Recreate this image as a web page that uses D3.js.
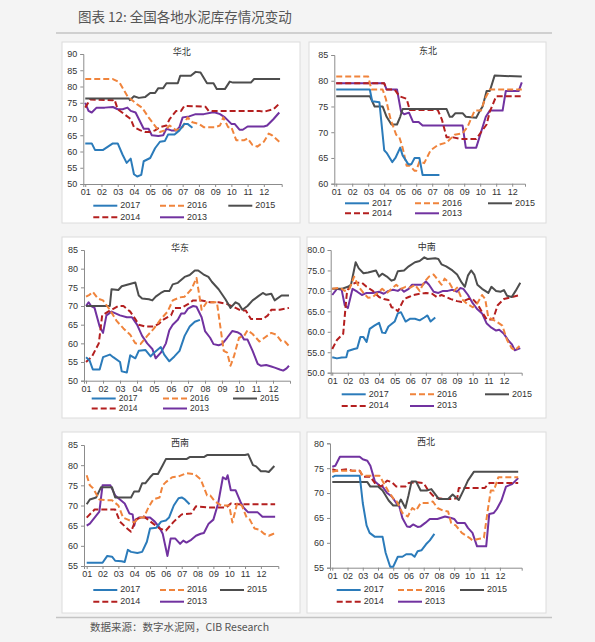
<!DOCTYPE html>
<html>
<head>
<meta charset="utf-8">
<script src="https://cdn.jsdelivr.net/npm/d3@7"></script>
<style>
  body { margin: 0; background: #f4f4f4; }
  text { font-family: Arial, "Liberation Sans", sans-serif; }
  .cjk { font-family: "Noto Sans CJK SC", sans-serif; }
</style>
</head>
<body>
<div id="vis"></div>
<script>
//chart values, [month position, inventory %]
const regions = ["华北", "东北", "华东", "中南", "西南", "西北"]
const years = ["2017", "2016", "2015", "2014", "2013"]
const monthLabels = ["01", "02", "03", "04", "05", "06", "07", "08", "09", "10", "11", "12"]

//华北
const hb17 = [[0,62.5],[0.4,62.5],[0.6,60.5],[1.1,60.5],[1.4,61.5],[1.7,62.5],[2.0,62.5],[2.3,59],[2.55,56.5],[2.8,57.8],[3.0,53],[3.2,52.3],[3.45,52.8],[3.6,57],[4.0,58],[4.3,61],[4.6,63],[4.9,63.2],[5.1,65.2],[5.5,65.2],[5.8,66.5],[6.1,68.5],[6.3,68.5],[6.6,67.3]]
const hb16 = [[0,82.3],[1.7,82.3],[2.1,81.3],[2.6,77],[3.2,74.5],[3.5,73.5],[3.9,70.5],[4.2,68.5],[4.6,66],[4.9,66.5],[5.2,68],[5.6,66.5],[6.0,67.5],[6.3,70.5],[6.6,69],[7.0,68.5],[7.3,67.5],[8.0,67.5],[8.3,68],[8.5,70.5],[8.8,67.5],[9.0,67.5],[9.3,63.5],[9.8,63.5],[10.0,64],[10.3,62],[10.6,61.5],[11.0,63],[11.3,65.5],[11.5,65],[11.95,63]]
const hb15 = [[0,76.3],[2.7,76.3],[2.75,75.8],[3.0,77],[3.3,76.5],[3.7,76.8],[4.0,78],[4.3,78],[4.5,79.5],[4.8,79.5],[5.0,81],[5.7,81],[5.85,83.3],[6.5,83.3],[6.8,84.5],[7.1,84.3],[7.5,81],[7.9,81],[8.1,79.2],[8.6,79.2],[8.9,81.5],[9.1,81.2],[10.2,81.2],[10.4,82.3],[12.0,82.3]]
const hb14 = [[0,73.5],[0.3,76],[1.7,75.8],[1.8,76],[2.0,73],[2.4,71.5],[2.8,70],[3.0,67.5],[3.4,66.5],[3.7,66],[4.0,66],[4.3,66.5],[4.6,67.5],[5.0,68],[5.2,70],[5.6,72.5],[5.9,72.5],[6.1,74],[7.4,73.8],[7.6,72.5],[10.7,72.5],[11.0,72.2],[11.2,72.5],[11.6,73],[11.9,74.5]]
const hb13 = [[0,75],[0.2,72.5],[0.4,72],[0.7,73.5],[1.2,73.5],[1.7,73.7],[2.0,73],[2.3,73],[2.6,73.5],[2.8,72.5],[3.1,72],[3.3,70],[3.6,67],[3.9,67],[4.1,65],[4.5,64.8],[4.8,65],[5.0,67],[5.3,66.5],[5.6,66.5],[5.8,67.5],[6.0,70.5],[6.4,70.8],[6.8,71.5],[7.3,71.5],[7.8,72],[8.0,72],[8.3,71.5],[8.6,70.5],[9.0,68.5],[9.2,68.5],[9.5,66.7],[9.7,66.7],[10.0,67.7],[11.0,67.7],[11.2,68],[11.6,70],[11.95,72]]

//东北
const db17 = [[0,78.3],[2.1,78.3],[2.25,76],[2.7,75.8],[3.0,66.5],[3.15,66],[3.5,64.2],[3.7,65],[4.0,67],[4.15,65.5],[4.5,63.8],[4.7,63.8],[4.9,65],[5.2,65],[5.4,61.7],[6.45,61.7]]
const db16 = [[0,80.8],[2.0,80.8],[2.2,78.3],[2.9,78.3],[3.1,76.5],[3.4,72.5],[3.75,69.5],[3.95,69],[4.15,67],[4.4,63.5],[4.6,63.5],[4.9,62.5],[5.0,62.5],[5.2,64.3],[5.5,64],[5.9,66.5],[6.35,67.5],[6.9,68],[7.4,69.5],[7.9,69.8],[8.2,71],[8.65,74.2],[9.05,74.2],[9.3,76.5],[9.6,78.3],[11.6,78.3]]
const db15 = [[0,77],[2.1,77],[2.4,75],[2.9,75],[3.15,73],[3.45,71.5],[3.8,71.5],[4.0,73],[4.15,74.5],[6.9,74.5],[7.1,73],[7.25,73],[7.45,73.7],[7.9,73.7],[8.1,73],[8.75,72.8],[8.95,74],[9.15,75],[9.4,78],[9.6,78],[9.9,81],[11.6,80.8]]
const db14 = [[0,79.5],[3.0,79.5],[3.15,78.3],[3.65,78.3],[3.95,77],[4.4,76.5],[4.6,74.3],[6.35,74.3],[6.6,72.5],[6.9,69],[7.3,69],[7.8,68.7],[8.75,68.7],[9.05,70],[9.4,71.5],[9.6,74],[10.0,77],[11.6,77]]
const db13 = [[0,79.5],[3.0,79.5],[3.15,78.3],[3.8,78.3],[4.05,74],[4.25,73.5],[4.55,73.8],[4.8,72],[5.15,72],[5.4,71.3],[7.9,71.3],[8.1,67],[8.75,67],[9.05,70],[9.35,73],[9.6,74.2],[10.4,74.2],[10.6,78],[11.4,78],[11.6,79.7]]

//华东
const hd17 = [[0,56.3],[0.2,55.5],[0.4,53],[0.8,53],[1.0,56.3],[1.4,57],[1.6,56.3],[2.0,55],[2.1,52.5],[2.4,52.2],[2.6,56.8],[2.9,56],[3.1,58],[3.5,58.2],[3.8,56.5],[4.0,57.5],[4.4,59],[4.6,57],[4.9,55.2],[5.2,56.5],[5.5,58],[5.8,62],[6.1,64.5],[6.4,65.8],[6.7,66.3]]
const hd16 = [[0,72.5],[0.2,73],[0.4,73.8],[0.7,72],[1.0,71.5],[1.4,69],[1.8,66],[2.2,64],[2.6,62.3],[2.9,60],[3.2,59.8],[3.6,62],[4.0,64],[4.4,66.5],[4.8,68.5],[5.1,71.5],[5.5,72.3],[5.8,72.5],[6.2,74.5],[6.5,77.5],[6.8,69],[7.1,71],[7.7,71],[8.1,58],[8.3,57.5],[8.5,54],[8.7,56.5],[9.0,61.5],[9.3,62],[9.5,63.5],[9.8,62.5],[10.2,60.5],[10.5,61.5],[10.9,62.8],[11.2,62.3],[11.5,60.5],[11.7,60.5],[11.94,59.3]]
const hd15 = [[0,70],[1.4,70],[1.5,74.5],[1.9,74.3],[2.1,75.3],[2.9,76.3],[3.1,72.8],[3.3,72],[3.7,71.8],[3.9,71.5],[4.1,72.5],[4.4,73.5],[4.6,74],[4.9,74],[5.1,75.8],[5.4,76.2],[5.8,77.8],[6.1,78.3],[6.4,79.5],[6.6,79.5],[6.9,78.5],[7.2,77.8],[7.4,76.5],[7.8,74.5],[8.2,71.8],[8.5,69.5],[8.8,71],[9.0,70.5],[9.2,69],[9.5,70],[9.8,71.5],[10.1,72.5],[10.4,73.5],[10.6,73],[10.9,73.3],[11.1,71.5],[11.5,72.8],[11.94,72.8]]
const hd14 = [[0,55],[0.35,56.5],[0.75,60],[0.95,67.5],[1.3,68.5],[1.9,70],[2.2,70],[2.6,68.5],[2.9,66.5],[3.1,65],[3.5,64.5],[4.0,64.5],[4.3,65.3],[4.6,66.5],[5.0,67.5],[5.2,69.5],[5.6,69.5],[6.0,70.5],[6.3,71.5],[6.8,71.5],[7.3,71],[7.8,71],[8.3,70.5],[8.8,69.5],[9.1,68.8],[9.4,68.8],[9.7,66.5],[10.4,66.5],[10.7,67.5],[10.9,69],[11.4,69],[11.94,69.5]]
const hd13 = [[0,70],[0.15,71],[0.3,70],[0.5,69.5],[0.8,64.5],[1.0,62.8],[1.2,67.5],[1.5,68.5],[2.0,67.5],[2.4,67],[2.7,67],[3.0,65],[3.3,62],[3.6,60],[3.9,58.5],[4.1,56],[4.4,57.5],[4.7,60],[4.9,63.5],[5.1,65],[5.4,66.3],[5.6,68],[5.8,68],[6.0,69.3],[6.3,70],[6.5,69.8],[6.8,67],[7.0,63.3],[7.3,61.5],[7.5,59.8],[7.8,59.5],[8.0,59.8],[8.3,61.5],[8.6,63.3],[8.9,63],[9.1,62.5],[9.3,61],[9.5,61],[9.8,58],[10.1,54.5],[10.3,54],[10.6,54.2],[10.9,53.8],[11.1,53.5],[11.4,53],[11.6,52.7],[11.8,53.3],[11.94,54]]

//中南
const zn17 = [[0,53.8],[0.3,53.5],[0.6,53.7],[0.9,53.8],[1.0,55.3],[1.4,55.8],[1.6,56],[1.8,58.7],[2.0,58.7],[2.2,57.5],[2.4,60.7],[2.7,61.5],[3.0,62.2],[3.2,59.8],[3.4,59.7],[3.6,61.3],[4.0,62.5],[4.2,64.5],[4.4,64.8],[4.7,62.5],[5.0,63.2],[5.3,63.2],[5.6,62.8],[5.9,63.5],[6.1,64],[6.3,62.5],[6.6,63.5]]
const zn16 = [[0,70.5],[0.5,70.8],[0.8,70],[1.1,70.5],[1.4,73.5],[1.7,71],[2.0,69.5],[2.3,68.3],[2.6,68.5],[2.9,69.5],[3.2,70.5],[3.5,69.5],[3.8,70.5],[4.1,71.5],[4.4,70.5],[4.7,71],[5.0,70.8],[5.3,71.5],[5.6,70],[5.9,72.2],[6.2,73.5],[6.5,74],[6.8,72.5],[7.0,71.5],[7.2,73],[7.5,72],[7.8,70],[8.0,70.8],[8.3,68],[8.6,67],[9.0,66],[9.3,67],[9.6,69],[9.8,68],[10.0,63.5],[10.3,63],[10.6,62.3],[10.9,61.5],[11.2,58],[11.5,56],[11.7,55.5],[12.0,56.5]]
const zn15 = [[0,70.5],[0.6,70.5],[1.0,71],[1.2,71.5],[1.5,77],[1.7,75.5],[2.0,74.3],[2.3,74.5],[2.8,75],[3.0,73.5],[3.2,74.2],[3.5,73.5],[3.8,72.5],[4.0,72.8],[4.2,74.8],[4.6,75],[4.9,76],[5.3,77],[5.6,77.3],[5.9,78.2],[6.1,77.8],[6.6,78],[6.8,77.8],[7.0,76.5],[7.3,76],[7.7,75],[8.0,74],[8.3,72],[8.5,71],[8.7,73.8],[8.9,75],[9.1,74],[9.3,71.5],[9.6,70.5],[10.0,69.5],[10.2,71],[10.5,70],[10.8,69.8],[11.0,70.2],[11.2,68.8],[11.5,68.5],[11.75,70],[12.05,72]]
const zn14 = [[0,55.8],[0.3,58],[0.7,59.5],[0.85,66],[0.95,70],[1.2,71.5],[1.5,72],[1.9,72],[2.2,71],[2.6,70],[3.0,68.5],[3.3,68],[3.6,67.8],[3.8,66],[4.0,65.8],[4.2,65],[4.4,66.5],[4.6,68],[4.9,68.5],[5.2,69],[5.6,69.3],[6.0,69.5],[6.4,69.3],[6.7,68.5],[7.0,69],[7.3,68.5],[7.6,68],[8.0,67.5],[8.3,67.3],[8.7,68],[9.0,68],[9.3,66.8],[9.6,64.8],[9.9,63],[10.3,63],[10.6,66.5],[11.0,68],[11.5,68.5],[12.05,69]]
const zn13 = [[0,69],[0.3,70.5],[0.6,70.3],[0.8,66.5],[1.0,65.8],[1.3,70.5],[1.6,69.8],[1.9,69],[2.2,69.5],[2.6,69.5],[3.0,69.8],[3.3,69.3],[3.6,70],[3.9,70.3],[4.2,70],[4.4,70.5],[4.6,69.8],[4.9,70.5],[5.1,71.5],[5.5,71.5],[5.8,71.5],[6.0,72.3],[6.2,71.5],[6.5,69.8],[6.8,69.5],[7.1,70],[7.4,70],[7.7,70.3],[8.0,69.8],[8.2,70.7],[8.4,70.5],[8.7,69],[9.0,67],[9.3,65.5],[9.6,64.5],[9.9,62],[10.2,61],[10.5,60.3],[10.7,60.5],[11.0,59.5],[11.3,57.8],[11.5,57],[11.7,55.5],[12.05,56]]

//西南
const xn17 = [[0,55.8],[1.0,55.8],[1.3,57.5],[1.6,57.3],[1.8,56.3],[2.2,56.2],[2.4,56],[2.6,59],[2.8,58.5],[3.2,58.2],[3.5,58.5],[3.8,61],[4.0,64.3],[4.4,64.5],[4.7,66],[5.0,66.3],[5.2,67],[5.5,70],[5.8,71.8],[6.0,72],[6.2,71.5],[6.5,70.3]]
const xn16 = [[0,77.5],[0.2,75],[0.4,74.3],[0.8,71.5],[1.2,71.3],[1.6,71.3],[2.0,70],[2.3,67],[2.6,66.5],[3.0,65.8],[3.3,67],[3.6,67],[3.9,69.5],[4.2,71.5],[4.6,72],[4.8,75],[5.0,75.8],[5.4,77],[5.8,77.2],[6.3,78],[6.8,77.8],[7.2,76.5],[7.6,72.5],[7.8,72.5],[8.1,71],[8.5,70],[9.0,70],[9.2,65.8],[9.5,70.5],[9.8,70],[10.1,67],[10.3,66.5],[10.6,64.3],[10.9,64],[11.2,63],[11.5,62.5],[11.8,63],[11.9,63.2]]
const xn15 = [[0,70.3],[0.2,71.5],[0.6,72],[0.9,74.5],[1.6,74.5],[1.8,72],[2.8,72],[3.0,73.5],[3.3,73.5],[3.5,75.5],[3.7,75.5],[4.0,77],[4.2,77.8],[4.5,77.8],[4.8,80],[5.0,81.5],[6.3,81.5],[6.5,82],[7.4,82],[7.6,82.5],[10.0,82.5],[10.2,82.7],[10.5,80],[10.7,79.7],[11.0,78.5],[11.3,78.5],[11.5,78.3],[11.85,79.8]]
const xn14 = [[0,67],[0.5,69],[1.8,69],[2.1,66],[2.5,64.5],[2.8,63.5],[3.1,66.5],[3.6,67.3],[4.2,65.5],[4.6,64.3],[5.0,63.8],[5.5,66],[6.0,67.8],[6.6,68],[6.9,69.8],[7.8,69.5],[8.8,69.5],[9.1,70.5],[9.5,70.3],[11.9,70.3]]
const xn13 = [[0,65],[0.2,65.5],[0.8,68.5],[1.0,75],[1.5,75],[1.8,72.5],[2.1,71.5],[2.4,70.5],[2.7,68],[2.9,67.8],[3.0,65],[3.1,66.5],[3.3,67],[4.0,67],[4.3,66],[4.6,64.5],[4.8,63],[5.1,57.5],[5.3,61.8],[5.6,61.8],[5.9,60.5],[6.1,61.3],[6.3,60.8],[6.6,61.5],[6.9,62.5],[7.2,63],[7.4,63.2],[7.7,65.5],[8.0,66.5],[8.3,70.5],[8.6,77],[8.8,76.5],[8.9,77.5],[9.1,73.8],[9.4,73.8],[9.7,71],[9.9,69.5],[10.2,68.3],[10.8,68.3],[11.1,67.2],[11.9,67.2]]

//西北
const xb17 = [[0,73.2],[0.2,73.5],[1.8,73.5],[2.0,68],[2.25,63.5],[2.45,62],[2.8,61.2],[3.3,61.2],[3.5,58],[3.8,55.2],[4.0,55.2],[4.3,57.2],[4.6,57.2],[4.85,57.7],[5.2,57.7],[5.4,57.2],[5.6,58.3],[5.85,58.5],[6.15,59.7],[6.4,60.5],[6.7,61.8]]
const xb16 = [[0,74.3],[0.3,74.5],[1.8,74.5],[2.0,73.5],[3.1,73.5],[3.65,70.5],[4.1,68.5],[4.2,68.5],[4.6,66],[4.95,65.3],[5.25,67],[5.5,66.5],[5.8,68],[6.25,68],[6.6,68.3],[6.9,67],[7.25,66.5],[7.6,66.3],[7.8,64],[8.1,63.5],[8.5,62],[9.0,61],[9.2,60.5],[9.65,60.8],[9.95,61],[10.2,66.5],[10.4,70.5],[10.6,70.5],[10.9,73.2],[12.2,73.2]]
const xb15 = [[0,72.2],[2.3,72.2],[2.5,71.3],[3.0,71.3],[3.3,70.5],[3.7,68.5],[4.0,67.5],[4.3,67.5],[4.5,68.7],[4.8,67],[5.0,69.5],[5.2,72.3],[5.5,72.3],[5.8,70.5],[6.2,70.5],[6.5,70.8],[7.0,68.8],[7.6,68.8],[7.9,69.7],[8.3,68.6],[8.6,70.5],[8.9,72.5],[9.3,74.3],[12.2,74.3]]
const xb14 = [[0,74.8],[0.3,74.5],[1.0,74.8],[1.3,74.5],[1.8,74.5],[2.0,73.3],[2.5,73.3],[2.8,72],[3.2,71.3],[3.6,72.5],[3.9,72.2],[4.2,71.3],[4.8,71.3],[5.0,72],[5.5,72.2],[6.0,72],[6.3,70.5],[6.6,69.5],[6.8,69],[7.3,68.8],[7.9,68.8],[8.2,69],[8.3,71],[10.0,71],[10.3,72],[12.2,72]]
const xb13 = [[0,75.3],[0.2,75.5],[0.5,77.3],[1.8,77.3],[2.0,76.8],[2.3,76.5],[2.5,75.5],[2.8,72.3],[3.1,71.5],[3.3,71.3],[3.6,70],[3.9,69.3],[4.2,68],[4.4,67.3],[4.6,65],[4.9,63.3],[5.1,63.2],[5.3,63.7],[5.6,63.2],[5.8,63.3],[6.1,64],[6.4,64.8],[6.9,64.8],[7.1,65],[7.4,65.3],[7.8,65],[8.0,64.8],[8.2,64],[8.7,64],[8.9,63],[9.2,62],[9.5,59.3],[10.1,59.3],[10.3,65.8],[10.6,66],[10.8,66.8],[11.1,68.5],[11.4,71.3],[11.8,71.8],[12.2,73]]

const yDomains = [[50, 90], [60, 85], [50, 85], [50, 80], [55, 85], [55, 80]]
const seriesByRegion = [
    [hb17, hb16, hb15, hb14, hb13],
    [db17, db16, db15, db14, db13],
    [hd17, hd16, hd15, hd14, hd13],
    [zn17, zn16, zn15, zn14, zn13],
    [xn17, xn16, xn15, xn14, xn13],
    [xb17, xb16, xb15, xb14, xb13]
]

//layout of each panel: box, plot area, x domain, title and legend spots
const layout = [
    {box: [62, 42, 238, 181], plot: [83.3, 54, 281.7, 184], xd: [-0.12, 12.1], title: [181.7, 52.7], leg: [205.7, 217.3], legX: [93.3, 160, 228.3], fmt: "d"},
    {box: [309, 42, 237, 181], plot: [334.3, 55, 525, 183.7], xd: [-0.12, 11.8], title: [428, 52], leg: [203.3, 213.3], legX: [345, 415, 488], fmt: "d"},
    {box: [62, 237, 238, 181], plot: [84, 250, 290, 380.7], xd: [-0.12, 12.0], title: [180, 248.3], leg: [398.5, 408.5], legX: [91.7, 163, 233], fmt: "d"},
    {box: [307, 237, 239, 181], plot: [330.7, 250, 521.7, 372.7], xd: [-0.1, 12.14], title: [426.7, 247.7], leg: [394.3, 406], legX: [341.7, 410, 485], fmt: ".1f"},
    {box: [62, 432, 238, 181], plot: [84, 445, 278.3, 566], xd: [-0.17, 12.1], title: [180, 443.3], leg: [590, 601.7], legX: [93.3, 160, 220], fmt: "d"},
    {box: [307, 432, 239, 181], plot: [330, 443.3, 521.7, 567.7], xd: [-0.15, 12.43], title: [426, 442.7], leg: [590, 601.7], legX: [336.7, 398, 460], fmt: "d"}
]

//line styles per year
const colors = ["#2b7bba", "#f0843c", "#4d4d4d", "#b41f1f", "#7132a0"]
const dashes = [null, "6,3", null, "6,3", null]
//legend slots: [row, column]
const legSlots = [[0, 0], [0, 1], [0, 2], [1, 0], [1, 1]]

const width = 595
const height = 642

const svg = d3.select("#vis")
    .append("svg")
    .attr("width", width)
    .attr("height", height)

svg.append("rect")
    .attr("width", width)
    .attr("height", height)
    .attr("fill", "#f4f4f4")

//header
svg.append("text")
    .attr("class", "cjk")
    .attr("x", 78)
    .attr("y", 22)
    .attr("font-size", 13.5)
    .attr("fill", "#555")
    .text("图表 12:  全国各地水泥库存情况变动")

svg.append("line")
    .attr("x1", 56).attr("x2", 552)
    .attr("y1", 33).attr("y2", 33)
    .attr("stroke", "#c4c4c4")
    .attr("stroke-width", 1.5)

svg.append("line")
    .attr("x1", 56).attr("x2", 552)
    .attr("y1", 617.5).attr("y2", 617.5)
    .attr("stroke", "#c4c4c4")
    .attr("stroke-width", 1.5)

svg.append("text")
    .attr("class", "cjk")
    .attr("x", 90)
    .attr("y", 631)
    .attr("font-size", 10.5)
    .attr("fill", "#555")
    .text("数据来源：数字水泥网，CIB Research")

regions.forEach((name, i) => {
    const L = layout[i]
    const g = svg.append("g")

    g.append("rect")
        .attr("x", L.box[0]).attr("y", L.box[1])
        .attr("width", L.box[2]).attr("height", L.box[3])
        .attr("fill", "#fff")
        .attr("stroke", "#dcdcdc")

    const x = d3.scaleLinear().domain(L.xd).range([L.plot[0], L.plot[2]])
    const y = d3.scaleLinear().domain(yDomains[i]).range([L.plot[3], L.plot[1]])

    //y axis
    const yAxis = g.append("g")
        .attr("transform", `translate(${L.plot[0]},0)`)
        .call(d3.axisLeft(y).ticks(7).tickSize(3).tickPadding(3).tickFormat(d3.format(L.fmt)))
    yAxis.selectAll("text").attr("font-size", 9).attr("fill", "#333")

    //x axis
    const xAxis = g.append("g")
        .attr("transform", `translate(0,${L.plot[3]})`)
        .call(d3.axisBottom(x).tickValues(d3.range(12)).tickSize(3).tickPadding(2)
            .tickFormat(d => monthLabels[d]))
    xAxis.selectAll("text").attr("font-size", 9).attr("fill", "#333")

    g.selectAll(".domain, .tick line").attr("stroke", "#8c8c8c")

    //title
    g.append("text")
        .attr("class", "cjk")
        .attr("x", L.title[0])
        .attr("y", L.title[1])
        .attr("text-anchor", "middle")
        .attr("dominant-baseline", "middle")
        .attr("font-size", 9)
        .attr("fill", "#333")
        .text(name)

    const line = d3.line()
        .x(d => x(d[0]))
        .y(d => y(d[1]))

    //draw oldest first so 2017 sits on top
    seriesByRegion[i].map((s, k) => ({s, k})).reverse().forEach(({s, k}) => {
        g.append("path")
            .datum(s)
            .attr("d", line)
            .attr("fill", "none")
            .attr("stroke", colors[k])
            .attr("stroke-width", 2)
            .attr("stroke-linejoin", "round")
            .attr("stroke-dasharray", dashes[k])
    })

    //legend
    years.forEach((yr, k) => {
        const lx = L.legX[legSlots[k][1]]
        const ly = L.leg[legSlots[k][0]]
        g.append("line")
            .attr("x1", lx).attr("x2", lx + 24)
            .attr("y1", ly).attr("y2", ly)
            .attr("stroke", colors[k])
            .attr("stroke-width", 2)
            .attr("stroke-dasharray", dashes[k])
        g.append("text")
            .attr("x", lx + 27)
            .attr("y", ly)
            .attr("dominant-baseline", "middle")
            .attr("font-size", i === 2 ? 8.5 : 9)
            .attr("fill", "#333")
            .text(yr)
    })
})
</script>
</body>
</html>
